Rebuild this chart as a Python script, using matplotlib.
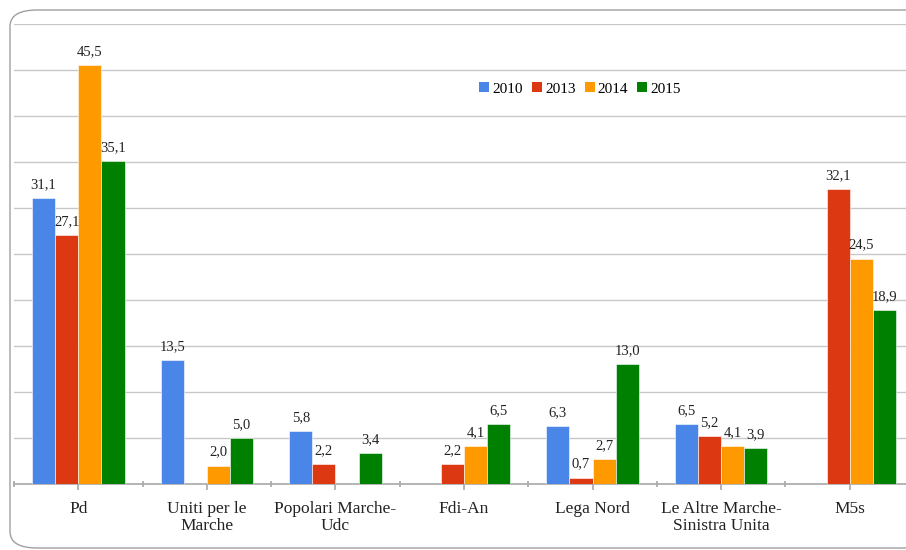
import numpy as np
import matplotlib.pyplot as plt
from matplotlib.patches import FancyBboxPatch, Patch

# data
categories = ['Pd', 'Uniti per le\nMarche', 'Popolari Marche-\nUdc', 'Fdi-An',
              'Lega Nord', 'Le Altre Marche-\nSinistra Unita', 'M5s']
years = ['2010', '2013', '2014', '2015']
v2010 = [31.1, 13.5, 5.8, np.nan, 6.3, 6.5, np.nan]
v2013 = [27.1, np.nan, 2.2, 2.2, 0.7, 5.2, 32.1]
v2014 = [45.5, 2.0, np.nan, 4.1, 2.7, 4.1, 24.5]
v2015 = [35.1, 5.0, 3.4, 6.5, 13.0, 3.9, 18.9]
colors = ['#4a86e8', '#dc3912', '#ff9900', '#008000']

plt.rcParams['font.family'] = ['Liberation Serif', 'DejaVu Serif']

W, H = 906, 550
fig = plt.figure(figsize=(W / 100, H / 100), dpi=100)

# rounded frame around the chart (right side runs off the image)
frame = FancyBboxPatch((10 / W, 1 - 548 / H), 960 / W, 538 / H,
                       boxstyle='round,pad=0,rounding_size=0.03',
                       transform=fig.transFigure, facecolor='none',
                       edgecolor='#a0a0a0', linewidth=1.0, zorder=-1)
fig.patches.append(frame)

ax = fig.add_axes([14 / W, 66 / H, 900 / W, 460 / H])
ax.set_facecolor('none')

x = np.arange(len(categories))
bw = 0.18
series = [v2010, v2013, v2014, v2015]
for i, (vals, c) in enumerate(zip(series, colors)):
    pos = x + (i - 1.5) * bw
    ax.bar(pos, vals, width=bw, color=c, edgecolor='white', linewidth=0.4,
           zorder=3)
    for p, v in zip(pos, vals):
        if np.isnan(v):
            continue
        ax.annotate(f'{v:.1f}'.replace('.', ','), (p, v),
                    xytext=(0, 5), textcoords='offset points',
                    ha='center', va='bottom', fontsize=10.5, color='#222222',
                    zorder=4)

ax.set_ylim(0, 50)
ax.set_xlim(-0.5, len(categories) - 0.5)
ax.set_yticks(np.arange(5, 51, 5))
ax.yaxis.grid(True, color='#c8c8c8', linewidth=1.0, zorder=0)
ax.tick_params(axis='y', left=False, labelleft=False)

for s in ['left', 'right', 'top']:
    ax.spines[s].set_visible(False)
ax.spines['bottom'].set_color('#a8a8a8')
ax.spines['bottom'].set_linewidth(1.2)

# category centre ticks (below) and boundary ticks (crossing)
ax.set_xticks(x)
ax.set_xticklabels(categories, fontsize=12.5, color='#222222', linespacing=1.15)
ax.tick_params(axis='x', length=4, color='#a8a8a8', width=1.2, pad=8)
ax.set_xticks(np.arange(-0.5, len(categories), 1), minor=True)
ax.tick_params(axis='x', which='minor', length=5, direction='inout',
               color='#a8a8a8', width=1.2)

handles = [Patch(facecolor=c, edgecolor='none') for c in colors]
fig.legend(handles, years, loc='center', bbox_to_anchor=(580 / W, 1 - 89 / H),
           ncol=4, frameon=False, fontsize=11, handlelength=0.65,
           handleheight=0.65, handletextpad=0.2, columnspacing=0.6)

fig.savefig('out.png', dpi=100)
